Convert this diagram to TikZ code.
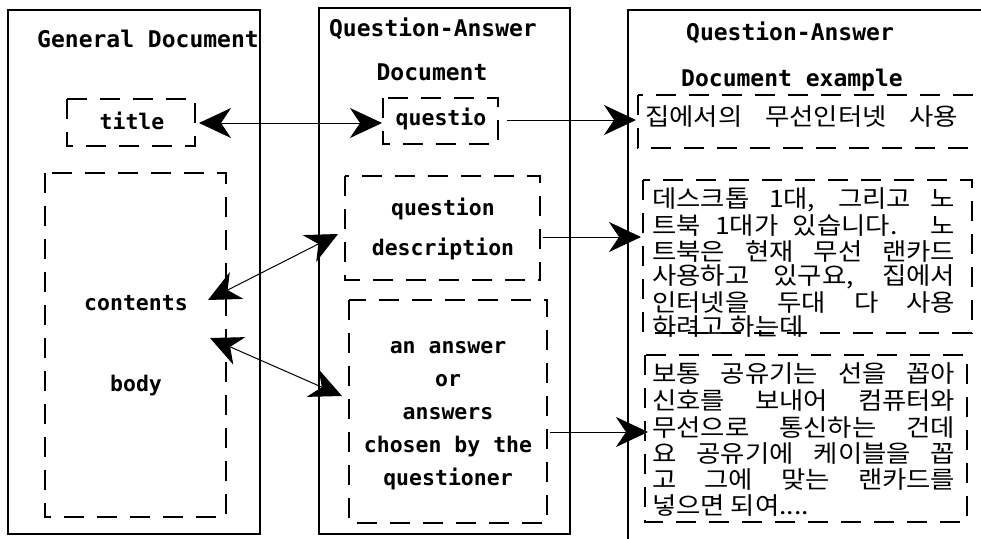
\documentclass[tikz,border=0pt]{standalone}
\usepackage{fontspec}
\setmonofont{DejaVu Sans Mono}
\newfontfamily\krfont{Noto Sans CJK KR}[FakeStretch=1.1]
\usetikzlibrary{arrows.meta}
\begin{document}
\begin{tikzpicture}[x=1pt,y=-1pt,
  solidbox/.style={draw,line width=1.3pt},
  dbox/.style={draw,line width=1.3pt,dash pattern=on 20pt off 13pt},
  head/.style={font=\fontsize{23}{26}\selectfont\ttfamily\bfseries,inner sep=0pt,text height=16pt,text depth=0pt},
  lbl/.style={font=\fontsize{21.5}{24}\selectfont\ttfamily\bfseries,inner sep=0pt,text height=15pt,text depth=0pt},
  krl/.style={font=\fontsize{24}{26}\selectfont\krfont,inner sep=0pt,anchor=west},
  tip/.tip={Stealth[length=32pt,width=30pt,inset=10pt]},
  arr/.style={line width=1pt,-tip},
  barr/.style={line width=1pt,tip-tip}]
\useasboundingbox (0,0) rectangle (981,538);
\fill[white] (0,0) rectangle (981,538);
% outer boxes
\draw[solidbox] (8,10) rectangle (260,534);
\draw[solidbox] (319,8) rectangle (570,534);
\draw[solidbox] (628,10) rectangle (1000,560);
% headings
\node[head] (h1) at (148,39) {General Document};
\node[head] (h2a) at (433,28) {Question-Answer};
\node[head] (h2b) at (432,72) {Document};
\node[head] (h3a) at (790,32) {Question-Answer};
\node[head] (h3b) at (792,78) {Document example};
% left column
\draw[dbox] (67,99) rectangle (195,146);
\node[lbl] (title) at (132,122) {title};
\draw[dbox] (45,173) rectangle (226,517);
\node[lbl] (contents) at (136,303) {contents};
\node[lbl] (body) at (136,384) {body};
% middle column
\draw[dbox] (383,98) rectangle (498,144);
\node[lbl] (questio) at (441,118) {questio};
\draw[dbox] (345,176) rectangle (540,280);
\node[lbl] (q1) at (443,208) {question};
\node[lbl] (q2) at (443,248) {description};
\draw[dbox] (349,300) rectangle (547,523);
\node[lbl] (an1) at (448,346) {an answer};
\node[lbl] (an2) at (448,379) {or};
\node[lbl] (an3) at (448,412) {answers};
\node[lbl] (an4) at (448,445) {chosen by the};
\node[lbl] (an5) at (448,478) {questioner};
% right column
\draw[dbox] (638,95) rectangle (1000,148);
\node[krl] (k0) at (645,117) {\makebox[313pt][s]{집에서의 무선인터넷 사용}};
\draw[dbox] (643,180) rectangle (972,333);
\node[krl] (k1) at (652,200) {\makebox[303pt][s]{데스크톱 1대, 그리고 노}};
\node[krl] (k2) at (652,226) {\makebox[303pt][s]{트북 1대가 있습니다. 노}};
\node[krl] (k3) at (652,252) {\makebox[303pt][s]{트북은 현재 무선 랜카드}};
\node[krl] (k4) at (652,277) {\makebox[303pt][s]{사용하고 있구요, 집에서}};
\node[krl] (k5) at (652,303) {\makebox[303pt][s]{인터넷을 두대 다 사용}};
\node[krl] (k6) at (652,327) {하려고 하는데};
\draw[dbox] (645,355) rectangle (967,522);
\node[krl] (m1) at (652,374) {\makebox[303pt][s]{보통 공유기는 선을 꼽아}};
\node[krl] (m2) at (652,401) {\makebox[303pt][s]{신호를 보내어 컴퓨터와}};
\node[krl] (m3) at (652,428) {\makebox[303pt][s]{무선으로 통신하는 건데}};
\node[krl] (m4) at (652,454) {\makebox[303pt][s]{요 공유기에 케이블을 꼽}};
\node[krl] (m5) at (652,480) {\makebox[303pt][s]{고 그에 맞는 랜카드를}};
\node[krl] (m6) at (652,506) {넣으면 되여....};
% arrow end points
\coordinate (a1) at (199,123);
\coordinate (a2) at (382,123);
\coordinate (a3) at (507,120);
\coordinate (a4) at (636,120);
\coordinate (a5) at (543,237);
\coordinate (a6) at (641,237);
\coordinate (a7) at (208,300);
\coordinate (a8) at (338,234);
\coordinate (a9) at (210,338);
\coordinate (a10) at (342,396);
\coordinate (a11) at (550,432);
\coordinate (a12) at (648,432);
\draw[barr] (a1) -- (a2);
\draw[arr] (a3) -- (a4);
\draw[arr] (a5) -- (a6);
\draw[barr] (a7) -- (a8);
\draw[barr] (a9) -- (a10);
\draw[arr] (a11) -- (a12);
\end{tikzpicture}
\end{document}
